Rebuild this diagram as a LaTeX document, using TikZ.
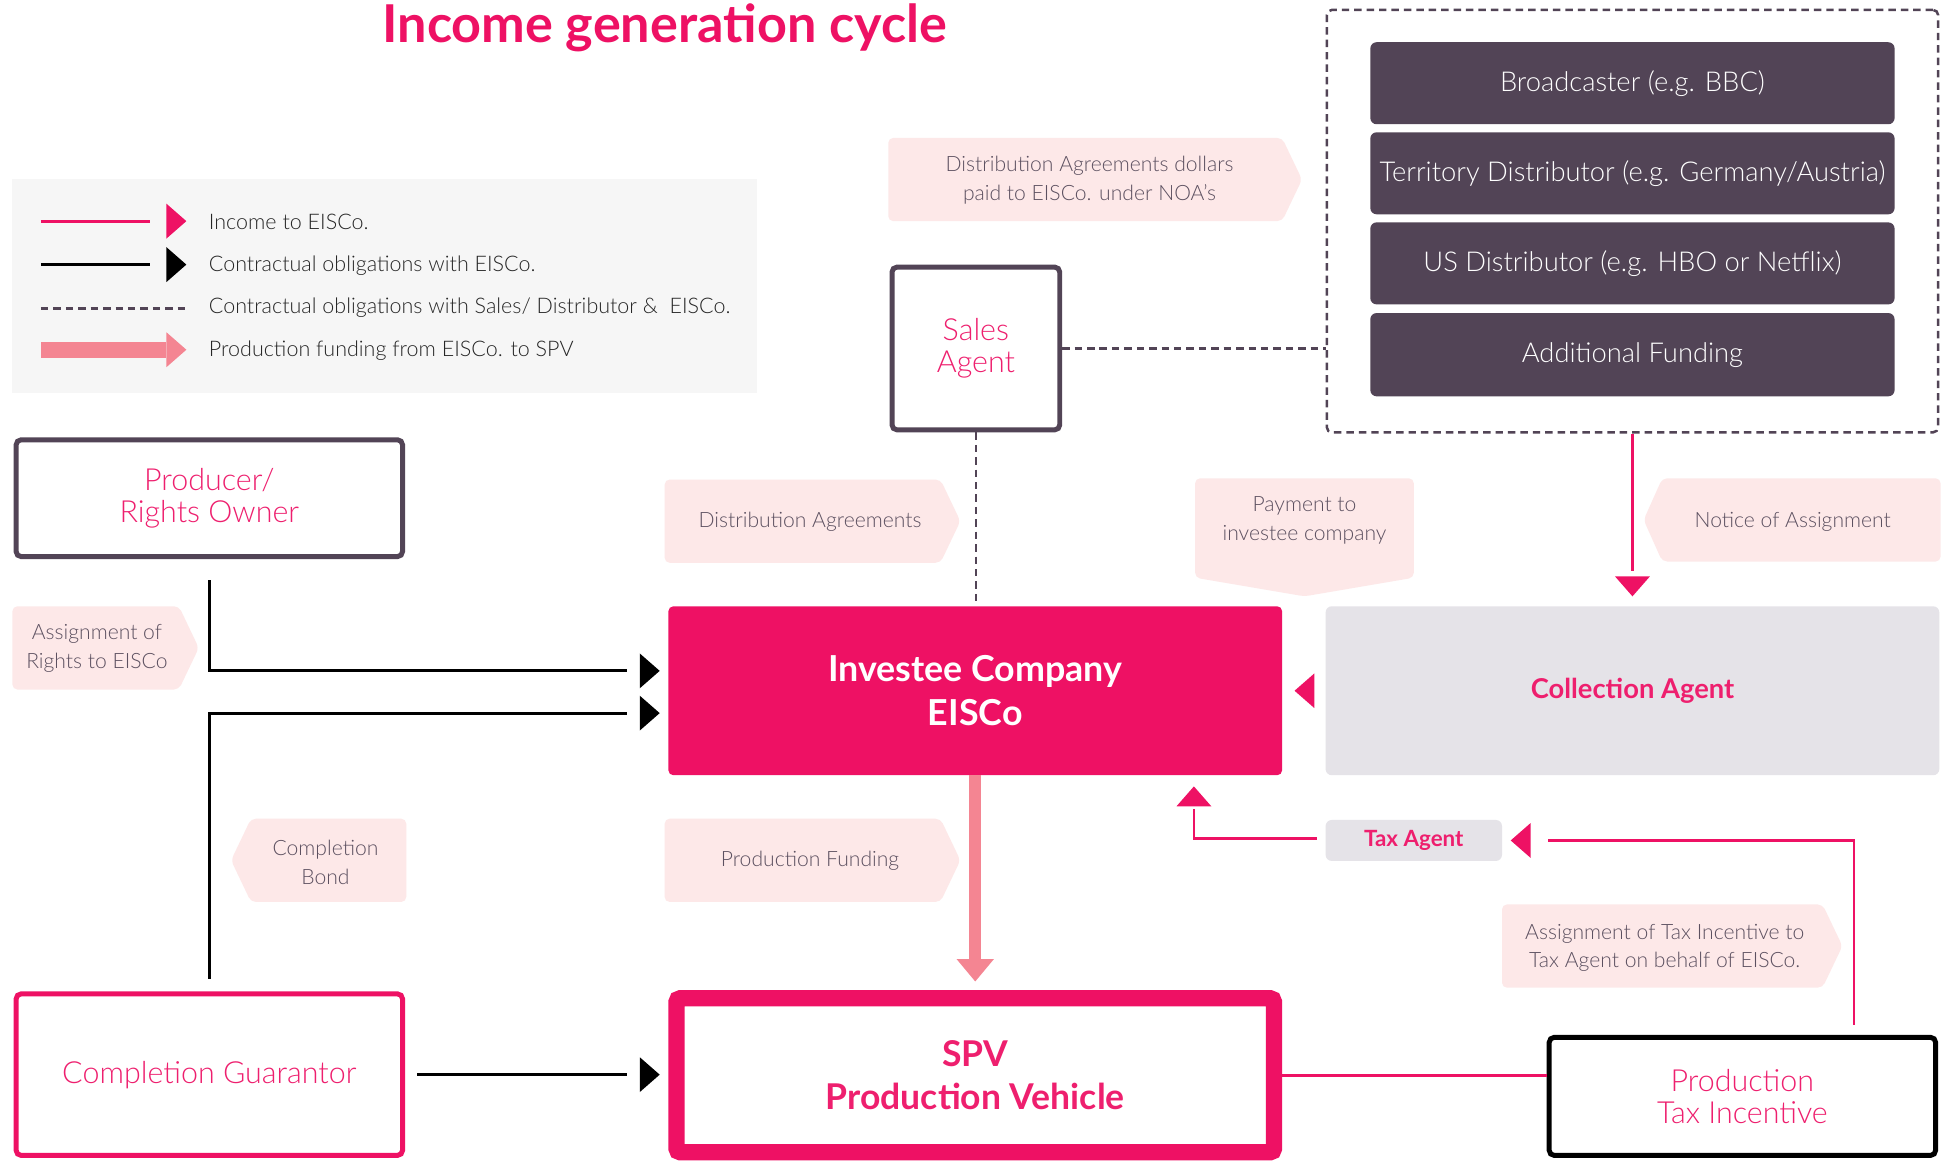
\documentclass[tikz,border=0pt]{standalone}
\usepackage{fontspec}
\setmainfont{Lato}[UprightFont={Lato Light}, BoldFont={Lato Bold}]
\usetikzlibrary{calc}
\definecolor{hotpink}{HTML}{EE1164}
\definecolor{txtpink}{HTML}{EE1F6E}
\definecolor{darkpurple}{HTML}{524456}
\definecolor{lblfill}{HTML}{FDE8E8}
\definecolor{lbltext}{HTML}{5C5060}
\definecolor{softpink}{HTML}{F48592}
\definecolor{greybox}{HTML}{E5E3E8}
\definecolor{legendbg}{HTML}{F6F6F6}
\newcommand\triR[2]{\fill[#2] (#1) -- ++(-16,-14) -- ++(0,28) -- cycle;}
\newcommand\triL[2]{\fill[#2] (#1) -- ++(16,-14) -- ++(0,28) -- cycle;}
\newcommand\triD[2]{\fill[#2] (#1) -- ++(-14,-16) -- ++(28,0) -- cycle;}
\newcommand\triU[2]{\fill[#2] (#1) -- ++(-14,16) -- ++(28,0) -- cycle;}
\tikzset{
  lbl/.style={fill=lblfill, rounded corners=4pt},
  lbltxt/.style={text=lbltext, align=center, inner sep=0pt, font=\fontsize{17}{23}\selectfont},
  legtxt/.style={text=black!85, anchor=west, inner sep=0pt, font=\fontsize{17.3}{18}\selectfont},
  outlinebox/.style={draw=darkpurple, line width=4pt, rounded corners=4pt, fill=white, inner sep=0pt,
    text=txtpink, align=center, font=\fontsize{24.5}{26}\selectfont},
  darkbox/.style={fill=darkpurple, rounded corners=5pt, text=white, inner sep=0pt,
    font=\fontsize{22}{24}\selectfont, minimum width=422pt, minimum height=66pt},
  blkline/.style={line width=2.5pt, black},
  pinkline/.style={line width=2pt, hotpink},
  dashline/.style={line width=2pt, darkpurple, dash pattern=on 6pt off 4pt},
}
\begin{document}
\begin{tikzpicture}[x=1pt,y=-1pt]
\useasboundingbox (0,0) rectangle (1568,934);
\fill[white] (0,0) rectangle (1568,934);

% title
\node[text=hotpink, font=\bfseries\fontsize{42}{46}\selectfont] (title) at (535,22) {Income generation cycle};

% legend
\node[fill=legendbg, minimum width=599pt, minimum height=172pt, inner sep=0pt] (legend) at (309.5,230) {};
\coordinate (l1a) at (33,178); \coordinate (l1b) at (121,178); \coordinate (l1t) at (150,178);
\draw[hotpink, line width=2.5pt] (l1a) -- (l1b); \triR{l1t}{hotpink}
\coordinate (l2a) at (33,213); \coordinate (l2b) at (121,213); \coordinate (l2t) at (150,213);
\draw[blkline] (l2a) -- (l2b); \triR{l2t}{black}
\coordinate (l3a) at (33,248); \coordinate (l3b) at (152,248);
\draw[dashline, line width=2.5pt] (l3a) -- (l3b);
\coordinate (l4a) at (33,281.5); \coordinate (l4t) at (150,281.5);
\fill[softpink] (33,275) rectangle (134,288); \triR{l4t}{softpink}
\node[legtxt] (lg1) at (168,179) {Income to EISCo.};
\node[legtxt] (lg2) at (168,214) {Contractual obligations with EISCo.};
\node[legtxt] (lg3) at (168,248) {Contractual obligations with Sales/ Distributor \&\ \ EISCo.};
\node[legtxt] (lg4) at (168,282) {Production funding from EISCo. to SPV};

% labels (arrow-shaped)
\fill[lbl] (715,111) -- (1032,111) -- (1048,144.5) -- (1032,178) -- (715,178) -- cycle;
\node[lbltxt] (lbdollars) at (877,145) {Distribution Agreements dollars\\paid to EISCo. under NOA’s};
\fill[lbl] (535,386) -- (757,386) -- (773,419.5) -- (757,453) -- (535,453) -- cycle;
\node[lbltxt] (lbdist) at (652,420) {Distribution Agreements};
\fill[lbl] (962,385) -- (1138,385) -- (1138,465) -- (1050,480) -- (962,465) -- cycle;
\node[lbltxt] (lbpay) at (1050,419) {Payment to\\investee company};
\fill[lbl] (1338,385) -- (1562,385) -- (1562,452) -- (1338,452) -- (1323,418.5) -- cycle;
\node[lbltxt] (lbnotice) at (1443,420) {Notice of Assignment};
\fill[lbl] (10,488) -- (144,488) -- (160,521.5) -- (144,555) -- (10,555) -- cycle;
\node[lbltxt] (lbrights) at (78,522) {Assignment of\\Rights to EISCo};
\fill[lbl] (535,659) -- (757,659) -- (773,692.5) -- (757,726) -- (535,726) -- cycle;
\node[lbltxt] (lbfund) at (652,693) {Production Funding};
\fill[lbl] (202,659) -- (327,659) -- (327,726) -- (202,726) -- (186,692.5) -- cycle;
\node[lbltxt] (lbbond) at (262,694) {Completion\\Bond};
\fill[lbl] (1209,728) -- (1467,728) -- (1483,761.5) -- (1467,795) -- (1209,795) -- cycle;
\node[lbltxt] (lbtax) at (1340,763) {Assignment of Tax Incentive to\\Tax Agent on behalf of EISCo.};

% main boxes
\node[outlinebox, minimum width=311pt, minimum height=94pt] (prod) at (168.5,401) {Producer/\\Rights Owner};
\node[outlinebox, minimum width=135pt, minimum height=131pt] (sales) at (785.5,280.5) {Sales\\Agent};
\node[fill=hotpink, rounded corners=4pt, minimum width=494pt, minimum height=136pt, inner sep=0pt,
  text=white, align=center, font=\bfseries\fontsize{28.8}{35}\selectfont] (invest) at (785,556) {Investee Company\\EISCo};
\node[fill=greybox, rounded corners=5pt, minimum width=494pt, minimum height=136pt, inner sep=0pt,
  text=txtpink, font=\bfseries\fontsize{22}{24}\selectfont] (coll) at (1314,556) {Collection Agent};
\node[dashline, draw=darkpurple, rounded corners=4pt, minimum width=492pt, minimum height=340pt, inner sep=0pt] (dist) at (1314,178) {};
\node[darkbox] (bc) at (1314,67) {Broadcaster (e.g. BBC)};
\node[darkbox] (td) at (1314,139.5) {Territory Distributor (e.g. Germany/Austria)};
\node[darkbox] (us) at (1314,212) {US Distributor (e.g. HBO or Netflix)};
\node[darkbox, minimum height=67pt] (af) at (1314,285.5) {Additional Funding};
\node[fill=greybox, rounded corners=5pt, minimum width=142pt, minimum height=33pt, inner sep=0pt,
  text=txtpink, font=\bfseries\fontsize{18}{20}\selectfont] (tax) at (1138,676.5) {Tax Agent};
\node[outlinebox, draw=hotpink, minimum width=311pt, minimum height=130pt] (compg) at (168.5,865) {Completion Guarantor};
\node[draw=hotpink, line width=13pt, fill=white, rounded corners=3pt, minimum width=481pt, minimum height=124pt,
  inner sep=0pt, text=txtpink, align=center, font=\bfseries\fontsize{28.6}{34}\selectfont] (spv) at (785,865.5) {SPV\\Production Vehicle};
\node[outlinebox, draw=black, minimum width=311pt, minimum height=95pt] (ptax) at (1402.5,882.5) {Production\\Tax Incentive};

% connectors
\coordinate (t1) at (531,540);
\draw[blkline] ($(prod.south)+(0,17)$) |- ($(t1)+(-26,0)$); \triR{t1}{black}
\coordinate (t2) at (531,574);
\draw[blkline] ($(compg.north)+(0,-10)$) |- ($(t2)+(-26,0)$); \triR{t2}{black}
\coordinate (t3) at (531,865);
\draw[blkline] ($(compg.east)+(10,0)$) -- ($(t3)+(-26,0)$); \triR{t3}{black}

\draw[dashline] (sales.south) -- (sales.south |- invest.north);
\draw[dashline] (sales.east) -- (sales.east -| dist.west);

\coordinate (t4) at (1314,480);
\draw[pinkline] (dist.south) -- ($(t4)+(0,-20)$); \triD{t4}{hotpink}

\coordinate (t5) at (1042,556);
\triL{t5}{hotpink}

\coordinate (t6) at (785,790);
\draw[softpink, line width=10pt] (invest.south) -- ($(t6)+(0,-17)$);
\fill[softpink] (t6) -- ++(-15,-18) -- ++(30,0) -- cycle;

\coordinate (t7) at (961,633);
\draw[pinkline] ($(tax.west)+(-7,-1.5)$) -| ($(t7)+(0,18)$); \triU{t7}{hotpink}

\coordinate (t8) at (1216,676.5);
\draw[pinkline] ($(ptax.north east)+(-67.5,-8)$) |- ($(t8)+(30,0)$); \triL{t8}{hotpink}

\draw[pinkline] (spv.east) -- (spv.east -| ptax.west);
\end{tikzpicture}
\end{document}
